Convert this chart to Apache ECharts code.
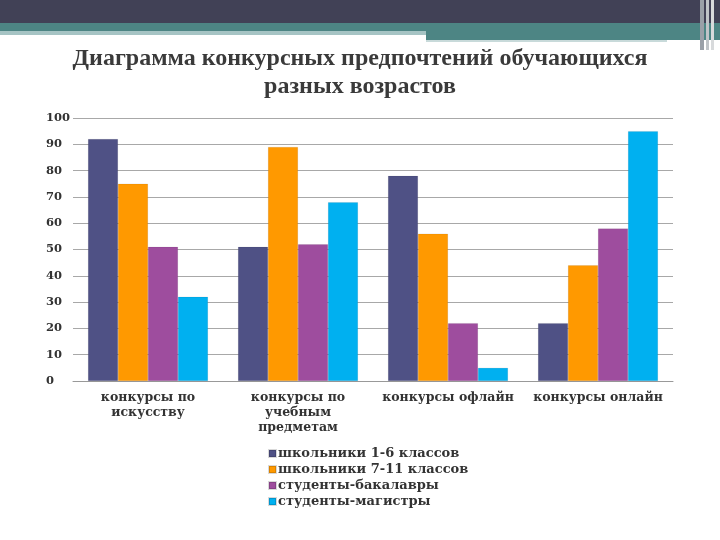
<!DOCTYPE html>
<html>
<head>
<meta charset="utf-8">
<script src="https://cdn.jsdelivr.net/npm/echarts@6/dist/echarts.min.js"></script>
<style>html,body{margin:0;padding:0;background:#fff}#c{width:720px;height:540px}</style>
</head>
<body>
<div id="c"></div>
<script>
const categories = ['конкурсы по\nискусству', 'конкурсы по\nучебным\nпредметам', 'конкурсы офлайн', 'конкурсы онлайн'];
const seriesNames = ['школьники 1-6 классов', 'школьники 7-11 классов', 'студенты-бакалавры', 'студенты-магистры'];
const school16 = [92, 51, 78, 22];
const school711 = [75, 89, 56, 44];
const bachelors = [51, 52, 22, 58];
const masters = [32, 68, 5, 95];
const colors = ['#4f5185', '#ff9900', '#9e4d9e', '#00b0f0'];
const titleText = 'Диаграмма конкурсных предпочтений обучающихся\nразных возрастов';

const serif = '"DejaVu Serif", Georgia, serif';
const values = [school16, school711, bachelors, masters];
const chart = echarts.init(document.getElementById('c'));
chart.setOption({
  animation: false,
  title: {
    text: titleText, left: 'center', top: 40,
    textStyle: { fontFamily: '"Liberation Serif", serif', fontWeight: 'bold', fontSize: 24, color: '#3a3a3a', lineHeight: 28 }
  },
  graphic: [
    { type: 'rect', shape: { x: 0, y: 0, width: 720, height: 23 }, style: { fill: '#414156' }, silent: true },
    { type: 'rect', shape: { x: 0, y: 23, width: 720, height: 8 }, style: { fill: '#4d8584' }, silent: true },
    { type: 'rect', shape: { x: 0, y: 31, width: 426, height: 4 }, style: { fill: '#a6c4c4' }, silent: true },
    { type: 'rect', shape: { x: 426, y: 31, width: 294, height: 9 }, style: { fill: '#4d8584' }, silent: true },
    { type: 'rect', shape: { x: 426, y: 40, width: 241, height: 2 }, style: { fill: '#c8dada' }, silent: true },
    { type: 'rect', shape: { x: 700, y: 0, width: 4, height: 50 }, style: { fill: '#9aa0a8' }, silent: true },
    { type: 'rect', shape: { x: 706, y: 0, width: 3, height: 50 }, style: { fill: '#c0c4c8' }, silent: true },
    { type: 'rect', shape: { x: 711, y: 0, width: 3, height: 50 }, style: { fill: '#d8dadc' }, silent: true }
  ],
  legend: {
    orient: 'vertical', left: 263, top: 442, itemGap: 3,
    itemWidth: 7, itemHeight: 7, icon: 'rect',
    textStyle: { fontFamily: serif, fontWeight: 'bold', fontSize: 13, color: '#333', padding: [0, 0, 0, -3] },
    data: seriesNames
  },
  grid: { left: 73, right: 47, top: 118, bottom: 159 },
  xAxis: {
    type: 'category', data: categories,
    axisLine: { lineStyle: { color: '#999' } },
    axisTick: { show: false },
    axisLabel: { fontFamily: serif, fontWeight: 'bold', fontSize: 12.5, color: '#333', lineHeight: 15, margin: 9, interval: 0 }
  },
  yAxis: {
    type: 'value', min: 0, max: 100, interval: 10,
    axisLine: { show: false }, axisTick: { show: false },
    splitLine: { lineStyle: { color: '#a8a8a8', width: 1 } },
    axisLabel: { fontFamily: serif, fontWeight: 'bold', fontSize: 11.5, color: '#333', margin: 27, align: 'left' }
  },
  series: seriesNames.map((n, i) => ({
    name: n, type: 'bar', data: values[i],
    barGap: '0%', barCategoryGap: '20%',
    itemStyle: { color: colors[i], borderColor: 'rgba(0,0,0,0.15)', borderWidth: 0.5 }
  }))
});
</script>
</body>
</html>
